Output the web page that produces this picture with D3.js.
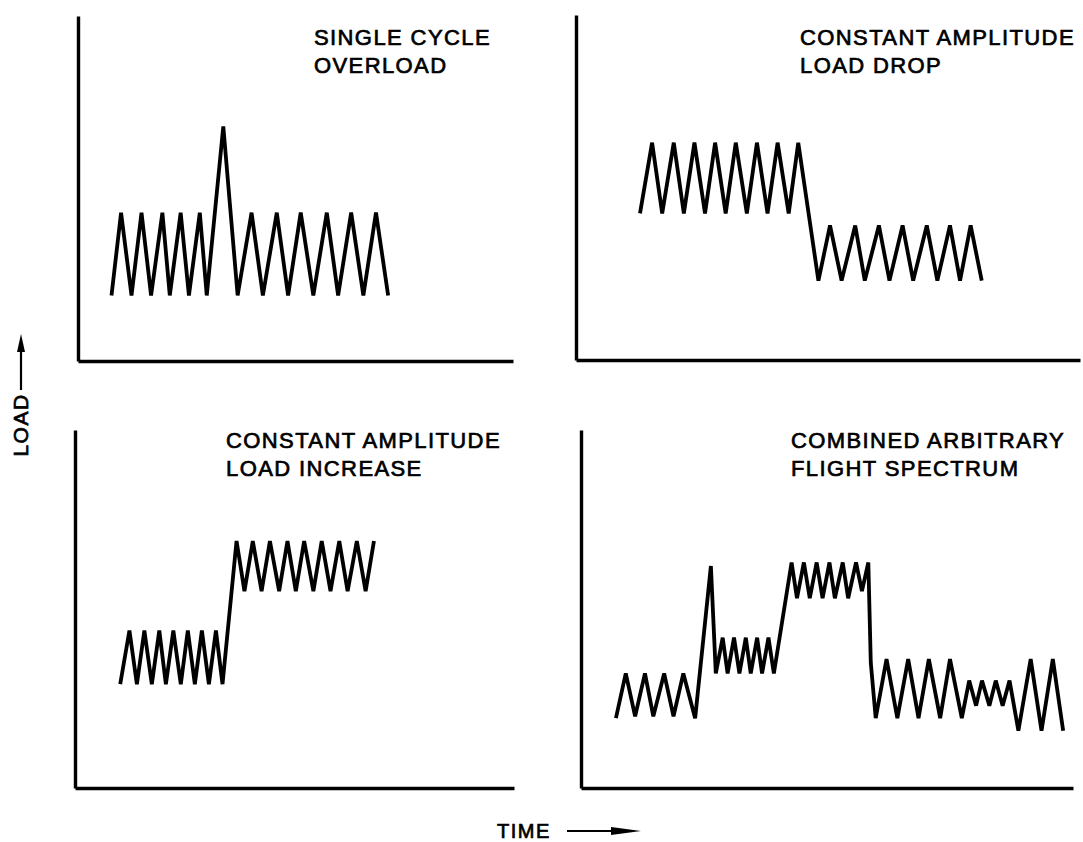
<!DOCTYPE html>
<html>
<head>
<meta charset="utf-8">
<script src="https://cdn.jsdelivr.net/npm/d3@7"></script>
<style>
  body { margin: 0; background: #fff; }
  text { font-family: "Liberation Sans", Arial, sans-serif; fill: #000; stroke: #000; stroke-width: 0.7; }
</style>
</head>
<body>
<svg id="drawing_region"></svg>
<script>
// load histories, time and load in percent of each panel's axes
const p1Time = [7.7, 9.9, 12.3, 14.6, 16.8, 19.4, 21.1, 23.6, 25.5, 28.0, 29.6, 33.4, 36.7, 39.9, 42.5, 45.7, 48.3, 51.2, 54.1, 57.2, 59.8, 62.8, 65.6, 68.5, 71.3];
const p1Load = [19, 43, 19, 43, 19, 43, 19, 43, 19, 43, 19, 68, 19, 43, 19, 43, 19, 43, 19, 43, 19, 43, 19, 43, 19];

const p2Time = [12.7, 15.1, 17.1, 19.4, 21.4, 23.5, 25.6, 27.6, 29.7, 31.7, 33.9, 35.9, 38.0, 40.0, 42.2, 44.1, 48.1, 50.4, 52.7, 55.4, 57.3, 60.1, 62.2, 64.8, 66.9, 69.6, 71.7, 74.2, 76.2, 78.3, 80.5];
const p2Load = [42.5, 63, 42.5, 63, 42.5, 63, 42.5, 63, 42.5, 63, 42.5, 63, 42.5, 63, 42.5, 63, 23, 39, 23, 39, 23, 39, 23, 39, 23, 39, 23, 39, 23, 39, 23];

const p3Time = [10.3, 12.4, 14.1, 15.8, 17.5, 19.2, 20.7, 22.4, 24.1, 25.7, 27.3, 28.9, 30.5, 32.1, 33.6, 36.8, 38.6, 40.5, 42.5, 44.4, 46.5, 48.4, 50.3, 52.2, 54.3, 56.2, 58.2, 60.2, 62.1, 64.2, 66.2, 68.1];
const p3Load = [29, 44, 29, 44, 29, 44, 29, 44, 29, 44, 29, 44, 29, 44, 29, 69, 55, 69, 55, 69, 55, 69, 55, 69, 55, 69, 55, 69, 55, 69, 55, 69];

const p4Time = [7.1, 9.1, 11.0, 13.0, 14.7, 16.9, 18.8, 20.8, 23.2, 26.4, 27.4, 28.8, 29.8, 31.1, 32.2, 33.5, 34.5, 35.8, 36.8, 38.1, 39.2, 42.8, 43.9, 45.3, 46.5, 47.9, 49.1, 50.5, 51.6, 53.2, 54.3, 55.9, 57.1, 58.4, 58.9, 59.9, 62.1, 64.3, 66.5, 68.6, 70.7, 73.0, 75.0, 77.4, 78.9, 80.3, 81.5, 83.0, 84.3, 85.7, 87.1, 88.9, 91.4, 93.6, 95.9, 98.0];
const p4Load = [19.5, 32, 20, 32, 20, 32, 20, 32, 19.5, 62, 32, 42, 32, 42, 32, 42, 32, 42, 32, 42, 32, 63, 53, 63, 53, 63, 53, 63, 53, 63, 53, 63, 55, 63, 35, 19.5, 36, 19.5, 36, 19.5, 36, 19.5, 36, 19.5, 30, 23, 30, 23, 30, 23, 30, 16, 36, 16, 36, 16];

const p1Title = ["SINGLE CYCLE", "OVERLOAD"];
const p2Title = ["CONSTANT AMPLITUDE", "LOAD DROP"];
const p3Title = ["CONSTANT AMPLITUDE", "LOAD INCREASE"];
const p4Title = ["COMBINED ARBITRARY", "FLIGHT SPECTRUM"];

const yLabel = "LOAD";
const xLabel = "TIME";

// panel frames (pixels): axis corner, axis ends, title anchor
const panels = [
  {time: p1Time, load: p1Load, title: p1Title, x0: 78,  x1: 513,  y0: 361, y1: 16,  tx: 314, ty: 45},
  {time: p2Time, load: p2Load, title: p2Title, x0: 576, x1: 1080, y0: 360, y1: 15,  tx: 800, ty: 45},
  {time: p3Time, load: p3Load, title: p3Title, x0: 75,  x1: 514,  y0: 788, y1: 430, tx: 226, ty: 448},
  {time: p4Time, load: p4Load, title: p4Title, x0: 581, x1: 1073, y0: 788, y1: 430, tx: 791, ty: 448}
];

const svg = d3.select('#drawing_region')
    .attr('width', 1083)
    .attr('height', 842);

panels.forEach( p => {
    const xscale = d3.scaleLinear().domain([0, 100]).range([p.x0, p.x1]);
    const yscale = d3.scaleLinear().domain([0, 100]).range([p.y0, p.y1]);

    const g = svg.append('g');

    const xaxis = d3.axisBottom(xscale).tickValues([]).tickSizeOuter(0);
    const yaxis = d3.axisLeft(yscale).tickValues([]).tickSizeOuter(0);

    g.append('g')
        .attr('transform', `translate(0, ${p.y0})`)
        .call(xaxis)
        .select('.domain')
        .attr('stroke', '#000')
        .attr('stroke-width', 3.4);
    g.append('g')
        .attr('transform', `translate(${p.x0}, 0)`)
        .call(yaxis)
        .select('.domain')
        .attr('stroke', '#000')
        .attr('stroke-width', 3.4);

    const data = p.time.map( (t, i) => ({t: t, l: p.load[i]}) );
    const line = d3.line()
        .x( d => xscale(d.t) )
        .y( d => yscale(d.l) );

    g.append('path')
        .attr('d', line(data))
        .attr('fill', 'none')
        .attr('stroke', '#000')
        .attr('stroke-width', 3.8)
        .attr('stroke-linejoin', 'miter')
        .attr('stroke-miterlimit', 2.5);

    g.selectAll('text.title')
        .data(p.title)
        .join('text')
        .attr('class', 'title')
        .attr('x', p.tx)
        .attr('y', (d, i) => p.ty + i * 28)
        .attr('font-size', 22)
        .attr('letter-spacing', 1.4)
        .text(d => d);
});

// LOAD label with upward arrow
svg.append('text')
    .attr('transform', 'translate(28, 425) rotate(-90)')
    .attr('text-anchor', 'middle')
    .attr('font-size', 21)
    .attr('letter-spacing', 1.5)
    .text(yLabel);
svg.append('line')
    .attr('x1', 21).attr('x2', 21)
    .attr('y1', 390).attr('y2', 345)
    .attr('stroke', '#000').attr('stroke-width', 2.2);
svg.append('path')
    .attr('d', 'M21,334 L17,352 L25,352 Z')
    .attr('fill', '#000');

// TIME label with right arrow
svg.append('text')
    .attr('x', 497)
    .attr('y', 838)
    .attr('font-size', 20)
    .attr('letter-spacing', 1.5)
    .text(xLabel);
svg.append('line')
    .attr('x1', 567).attr('x2', 625)
    .attr('y1', 831).attr('y2', 831)
    .attr('stroke', '#000').attr('stroke-width', 2.2);
svg.append('path')
    .attr('d', 'M641,831 L611,827 L611,835 Z')
    .attr('fill', '#000');
</script>
</body>
</html>
